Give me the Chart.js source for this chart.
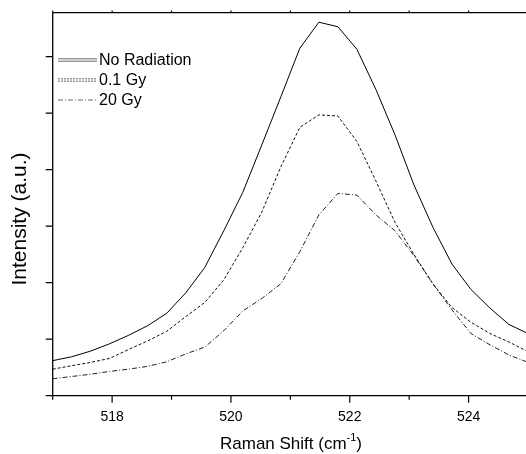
<!DOCTYPE html>
<html>
<head>
<meta charset="utf-8">
<script src="https://cdn.jsdelivr.net/npm/chart.js@4/dist/chart.umd.min.js"></script>
<style>
html,body{margin:0;padding:0;background:#fff;overflow:hidden;}
#wrap{width:528px;height:454px;}
</style>
</head>
<body>
<div id="wrap"><canvas id="c" width="528" height="454"></canvas></div>
<script>
// Raman shift (cm^-1)
const ramanShift = [517.00,517.32,517.64,517.96,518.28,518.60,518.92,519.24,519.56,519.88,520.20,520.52,520.84,521.16,521.48,521.80,522.12,522.44,522.76,523.08,523.40,523.72,524.04,524.36,524.68,525.00];
const noRadiation = [0.62,0.69,0.79,0.92,1.07,1.24,1.46,1.82,2.27,2.92,3.60,4.44,5.29,6.15,6.61,6.53,6.13,5.42,4.62,3.73,2.98,2.33,1.88,1.55,1.26,1.10];
const gy01 = [0.47,0.53,0.59,0.66,0.82,0.97,1.14,1.40,1.65,2.05,2.62,3.25,4.05,4.75,4.97,4.95,4.50,3.80,3.07,2.50,1.98,1.56,1.30,1.10,0.95,0.78];
const gy20 = [0.30,0.34,0.38,0.43,0.47,0.52,0.60,0.74,0.86,1.15,1.50,1.72,1.98,2.55,3.20,3.58,3.55,3.20,2.92,2.48,1.98,1.52,1.10,0.90,0.72,0.59];
const seriesLabels = ['No Radiation','0.1 Gy','20 Gy'];
const xTickLabels = [518,520,522,524];
const xTitle = 'Raman Shift (cm';
const xTitleSup = '-1';
const yTitle = 'Intensity (a.u.)';

const FONT = '"Liberation Sans", Arial, sans-serif';
const pts = arr => arr.map((v,i)=>({x:ramanShift[i], y:v}));

const decor = {
  id:'decor',
  afterDraw(chart){
    const ctx = chart.ctx, a = chart.chartArea;
    const xs = chart.scales.x, ys = chart.scales.y;
    ctx.save();
    ctx.strokeStyle = '#000';
    ctx.lineWidth = 1.3;
    ctx.beginPath();
    ctx.moveTo(a.left, a.top); ctx.lineTo(a.left, a.bottom);
    ctx.moveTo(a.left, a.bottom); ctx.lineTo(a.right+2, a.bottom);
    ctx.moveTo(a.left, a.top); ctx.lineTo(a.right+2, a.top);
    ctx.stroke();
    ctx.lineWidth = 1.2;
    ctx.beginPath();
    xs.ticks.forEach(t=>{
      const px = xs.getPixelForValue(t.value);
      const major = xTickLabels.includes(t.value);
      ctx.moveTo(px, a.bottom); ctx.lineTo(px, a.bottom + (major?7:4));
      ctx.moveTo(px, a.top); ctx.lineTo(px, a.top - 2);
    });
    ys.ticks.forEach(t=>{
      if (Math.abs(t.value - Math.round(t.value))>1e-6) return;
      const py = ys.getPixelForValue(t.value);
      ctx.moveTo(a.left, py); ctx.lineTo(a.left-7, py);
    });
    ctx.stroke();
    // legend
    const ds = chart.data.datasets;
    ctx.font = '16px ' + FONT;
    ctx.textBaseline = 'middle';
    ctx.fillStyle = '#000';
    ds.forEach((d,i)=>{
      const y = 60 + i*20;
      ctx.strokeStyle = '#444';
      ctx.lineWidth = 0.8;
      ctx.setLineDash(i===1 ? [2,1] : (d.borderDash || []));
      ctx.beginPath();
      if (i<2){
        ctx.moveTo(58,y-1.2); ctx.lineTo(97,y-1.2);
        ctx.moveTo(58,y+1.2); ctx.lineTo(97,y+1.2);
      } else {
        ctx.moveTo(58,y); ctx.lineTo(97,y);
      }
      ctx.stroke();
      ctx.setLineDash([]);
      ctx.fillText(d.label, 99, y+1);
    });
    // x title with superscript
    ctx.font = '17px ' + FONT;
    ctx.textBaseline = 'alphabetic';
    const w1 = ctx.measureText(xTitle).width;
    ctx.font = '11px ' + FONT;
    const w2 = ctx.measureText(xTitleSup).width;
    ctx.font = '17px ' + FONT;
    const w3 = ctx.measureText(')').width;
    const total = w1 + w2 + w3;
    const cx = 291;
    let x0 = cx - total/2;
    const by = 449;
    ctx.textAlign = 'left';
    ctx.fillText(xTitle, x0, by);
    ctx.font = '11px ' + FONT;
    ctx.fillText(xTitleSup, x0 + w1, by - 8);
    ctx.font = '17px ' + FONT;
    ctx.fillText(')', x0 + w1 + w2, by);
    // y title
    ctx.save();
    ctx.translate(26, 219);
    ctx.rotate(-Math.PI/2);
    ctx.textAlign = 'center';
    ctx.font = '21px ' + FONT;
    ctx.fillText(yTitle, 0, 0);
    ctx.restore();
    ctx.restore();
  }
};

new Chart(document.getElementById('c'), {
  type:'line',
  data:{
    datasets:[
      {label:seriesLabels[0], data:pts(noRadiation), borderColor:'#000', borderWidth:1, pointRadius:0, tension:0, fill:false},
      {label:seriesLabels[1], data:pts(gy01), borderColor:'#111', borderWidth:1, borderDash:[3,2], pointRadius:0, tension:0, fill:false},
      {label:seriesLabels[2], data:pts(gy20), borderColor:'#222', borderWidth:1, borderDash:[5,2,1,2], pointRadius:0, tension:0, fill:false}
    ]
  },
  options:{
    responsive:false,
    animation:false,
    layout:{padding:{top:12.6, right:0, left:0, bottom:0}},
    plugins:{legend:{display:false}, tooltip:{enabled:false}},
    scales:{
      x:{
        type:'linear', min:517, max:525,
        grid:{display:false, drawTicks:false},
        border:{display:false},
        ticks:{stepSize:1, padding:13, color:'#000', font:{family:FONT, size:14},
          callback:v => xTickLabels.includes(v) ? String(v) : '', maxRotation:0, autoSkip:false},
        afterFit:s=>{ s.height = 454 - 395.7; s.paddingLeft = 0; s.paddingRight = 0; }
      },
      y:{
        type:'linear', min:0, max:6.78,
        grid:{display:false, drawTicks:false},
        border:{display:false},
        ticks:{stepSize:1, display:false},
        afterFit:s=>{ s.width = 52.7; s.paddingTop = 0; s.paddingBottom = 0; }
      }
    }
  },
  plugins:[decor]
});
</script>
</body>
</html>
